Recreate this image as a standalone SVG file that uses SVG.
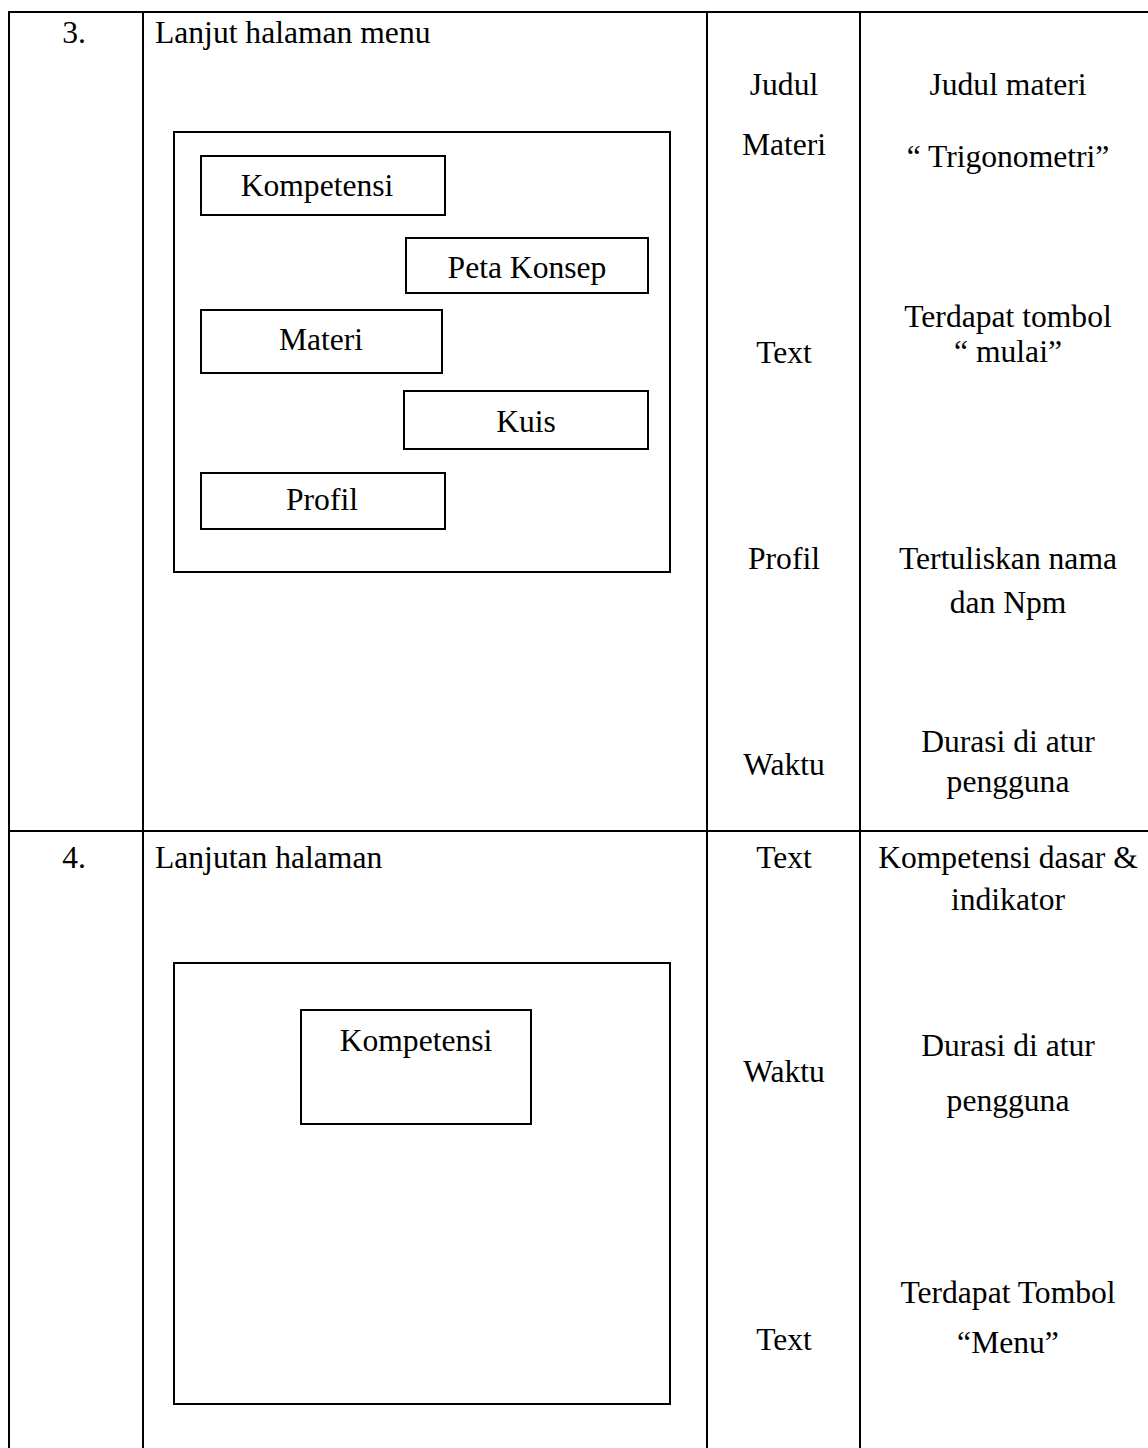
<svg xmlns="http://www.w3.org/2000/svg" width="1148" height="1448" viewBox="0 0 1148 1448">
  <style>
    text { font-family: "Liberation Serif", "Times New Roman", serif; font-size: 31.6px; fill: #000; }
    .c { text-anchor: middle; }
    .grid { stroke: #000; stroke-width: 2; fill: none; }
    .box { stroke: #000; stroke-width: 2; fill: #fff; }
  </style>
  <rect width="1148" height="1448" fill="#fff"/>

  <!-- table grid -->
  <g id="table-grid">
    <line class="grid" x1="9" y1="12" x2="1148" y2="12"/>
    <line class="grid" x1="9" y1="831" x2="1148" y2="831"/>
    <line class="grid" x1="9" y1="11" x2="9" y2="1448"/>
    <line class="grid" x1="143" y1="11" x2="143" y2="1448"/>
    <line class="grid" x1="707" y1="11" x2="707" y2="1448"/>
    <line class="grid" x1="860" y1="11" x2="860" y2="1448"/>
  </g>

  <!-- row 3 -->
  <g id="row3-number"><text class="c" x="74" y="43">3.</text></g>
  <g id="row3-title"><text x="155" y="43">Lanjut halaman menu</text></g>

  <g id="menu-screen">
    <rect class="box" x="174" y="132" width="496" height="440"/>
  </g>
  <g id="btn-kompetensi">
    <rect class="box" x="201" y="156" width="244" height="59"/>
    <text class="c" x="317" y="196">Kompetensi</text>
  </g>
  <g id="btn-peta-konsep">
    <rect class="box" x="406" y="238" width="242" height="55"/>
    <text class="c" x="527" y="278">Peta Konsep</text>
  </g>
  <g id="btn-materi">
    <rect class="box" x="201" y="310" width="241" height="63"/>
    <text class="c" x="321" y="350">Materi</text>
  </g>
  <g id="btn-kuis">
    <rect class="box" x="404" y="391" width="244" height="58"/>
    <text class="c" x="526" y="432">Kuis</text>
  </g>
  <g id="btn-profil">
    <rect class="box" x="201" y="473" width="244" height="56"/>
    <text class="c" x="322" y="510">Profil</text>
  </g>

  <g id="row3-elements">
    <text class="c" x="784" y="95">Judul</text>
    <text class="c" x="784" y="155">Materi</text>
    <text class="c" x="784" y="363">Text</text>
    <text class="c" x="784" y="569">Profil</text>
    <text class="c" x="784" y="775">Waktu</text>
  </g>
  <g id="row3-descriptions">
    <text class="c" x="1008" y="95">Judul materi</text>
    <text class="c" x="1008" y="167">“ Trigonometri”</text>
    <text class="c" x="1008" y="327">Terdapat tombol</text>
    <text class="c" x="1008" y="362">“ mulai”</text>
    <text class="c" x="1008" y="569">Tertuliskan nama</text>
    <text class="c" x="1008" y="613">dan Npm</text>
    <text class="c" x="1008" y="752">Durasi di atur</text>
    <text class="c" x="1008" y="792">pengguna</text>
  </g>

  <!-- row 4 -->
  <g id="row4-number"><text class="c" x="74" y="868">4.</text></g>
  <g id="row4-title"><text x="155" y="868">Lanjutan halaman</text></g>

  <g id="kompetensi-screen">
    <rect class="box" x="174" y="963" width="496" height="441"/>
  </g>
  <g id="kompetensi-panel">
    <rect class="box" x="301" y="1010" width="230" height="114"/>
    <text class="c" x="416" y="1051">Kompetensi</text>
  </g>

  <g id="row4-elements">
    <text class="c" x="784" y="868">Text</text>
    <text class="c" x="784" y="1082">Waktu</text>
    <text class="c" x="784" y="1350">Text</text>
  </g>
  <g id="row4-descriptions">
    <text class="c" x="1008" y="868">Kompetensi dasar &amp;</text>
    <text class="c" x="1008" y="910">indikator</text>
    <text class="c" x="1008" y="1056">Durasi di atur</text>
    <text class="c" x="1008" y="1111">pengguna</text>
    <text class="c" x="1008" y="1303">Terdapat Tombol</text>
    <text class="c" x="1008" y="1353">“Menu”</text>
  </g>
</svg>
